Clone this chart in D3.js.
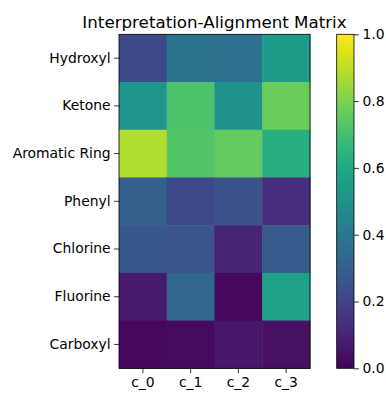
<!DOCTYPE html>
<html><head><meta charset="utf-8">
<script src="https://cdn.jsdelivr.net/npm/d3@7"></script>
<style>body{margin:0;background:#fff}svg{display:block;font-family:"DejaVu Sans",sans-serif}</style>
</head><body>
<script>
const rows = ["Hydroxyl","Ketone","Aromatic Ring","Phenyl","Chlorine","Fluorine","Carboxyl"];
const cols = ["c_0","c_1","c_2","c_3"];
const values = [
  [0.22,0.38,0.37,0.55],
  [0.52,0.72,0.51,0.77],
  [0.88,0.73,0.76,0.63],
  [0.30,0.22,0.25,0.13],
  [0.27,0.26,0.10,0.28],
  [0.07,0.33,0.02,0.57],
  [0.02,0.03,0.06,0.04]
];
const cbTicks = [0.0,0.2,0.4,0.6,0.8,1.0];
const title = "Interpretation-Alignment Matrix";

(function(){
const W=386,H=394;
const svg=d3.select("body").append("svg").attr("width",W).attr("height",H);
const mL=119, mR=310, mT=34.3, mB=368.3;
const x=d3.scaleBand().domain(cols).range([mL,mR]);
const y=d3.scaleBand().domain(rows).range([mT,mB]);
const color=d3.scaleSequential(d3.interpolateViridis).domain([0,1]);

const cells=[];
values.forEach((r,i)=>r.forEach((v,j)=>cells.push({row:rows[i],col:cols[j],v})));
svg.append("g").selectAll("rect").data(cells).join("rect")
  .attr("x",d=>x(d.col)).attr("y",d=>y(d.row))
  .attr("width",x.bandwidth()+0.5).attr("height",y.bandwidth()+0.5)
  .attr("fill",d=>color(d.v));
svg.append("rect").attr("x",mL).attr("y",mT).attr("width",mR-mL).attr("height",mB-mT)
  .attr("fill","none").attr("stroke","#000").attr("stroke-width",0.8);

const ax=svg.append("g").attr("transform",`translate(0,${mB})`)
  .call(d3.axisBottom(x).tickSize(4.9).tickPadding(3.5));
ax.select(".domain").remove();
ax.selectAll("text").attr("font-size","13.9px").attr("fill","#000").attr("font-family","DejaVu Sans");
ax.selectAll("line").attr("stroke","#000").attr("stroke-width",0.8);

const ay=svg.append("g").attr("transform",`translate(${mL},0)`)
  .call(d3.axisLeft(y).tickSize(4.9).tickPadding(3.5));
ay.select(".domain").remove();
ay.selectAll("text").attr("font-size","13.9px").attr("fill","#000").attr("font-family","DejaVu Sans");
ay.selectAll("line").attr("stroke","#000").attr("stroke-width",0.8);

svg.append("text").attr("x",(mL+mR)/2).attr("y",28).attr("text-anchor","middle")
  .attr("font-size","16.7px").attr("fill","#000").text(title);

const cbL=336.7, cbR=354, cbT=mT, cbB=mB;
const cy=d3.scaleLinear().domain([0,1]).range([cbB,cbT]);
const defs=svg.append("defs");
const grad=defs.append("linearGradient").attr("id","vg").attr("x1","0").attr("y1","1").attr("x2","0").attr("y2","0");
d3.range(0,1.0001,0.05).forEach(t=>grad.append("stop").attr("offset",t).attr("stop-color",color(t)));
svg.append("rect").attr("x",cbL).attr("y",cbT).attr("width",cbR-cbL).attr("height",cbB-cbT)
  .attr("fill","url(#vg)").attr("stroke","#000").attr("stroke-width",0.8);
const ac=svg.append("g").attr("transform",`translate(${cbR},0)`)
  .call(d3.axisRight(cy).tickValues(cbTicks).tickFormat(d3.format(".1f")).tickSize(4.9).tickPadding(3.5));
ac.select(".domain").remove();
ac.selectAll("text").attr("font-size","13.9px").attr("fill","#000").attr("font-family","DejaVu Sans");
ac.selectAll("line").attr("stroke","#000").attr("stroke-width",0.8);
})();
</script>
</body></html>
